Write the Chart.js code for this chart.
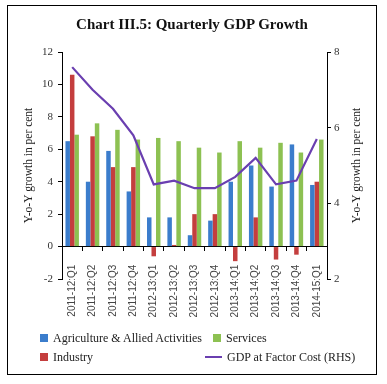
<!DOCTYPE html>
<html lang="en">
<head>
<meta charset="utf-8">
<title>Chart III.5: Quarterly GDP Growth</title>
<script src="https://cdn.jsdelivr.net/npm/chart.js@4.4.1/dist/chart.umd.min.js"></script>
<style>
  html, body { margin: 0; padding: 0; background: #fff; }
  #lienzo { position: relative; width: 387px; height: 384px; overflow: hidden; }
  #marco { position: absolute; left: 7px; top: 5px; width: 370px; height: 370px;
           border: 1px solid #000; box-sizing: border-box; pointer-events: none; }
  #titulo { position: absolute; left: 7px; width: 370px; top: 15px; text-align: center;
            font: bold 15px/18px "Liberation Serif", serif; color: #111; }
  canvas { position: absolute; left: 0; top: 0; }
  .leyenda-item { position: absolute; font: 12px/14px "Liberation Serif", serif; color: #222;
                  white-space: nowrap; display: flex; align-items: center; }
  .muestra { width: 8px; height: 8px; margin-right: 5px; }
  .muestra-linea { width: 17px; height: 2px; margin-right: 5px; }
</style>
</head>
<body>
<div id="lienzo">
  <canvas id="grafico" width="387" height="384"></canvas>
  <div id="titulo">Chart III.5: Quarterly GDP Growth</div>
  <div id="leyenda"></div>
  <div id="marco"></div>
</div>
<script>
// --- Datos ---
const categorias = [
  "2011-12:Q1", "2011-12:Q2", "2011-12:Q3", "2011-12:Q4",
  "2012-13:Q1", "2012-13:Q2", "2012-13:Q3", "2012-13:Q4",
  "2013-14:Q1", "2013-14:Q2", "2013-14:Q3", "2013-14:Q4",
  "2014-15:Q1",
];
const agricultura = [6.5, 4.0, 5.9, 3.4, 1.8, 1.8, 0.7, 1.6, 4.0, 5.0, 3.7, 6.3, 3.8];
const industria   = [10.6, 6.8, 4.9, 4.9, -0.6, 0.1, 2.0, 2.0, -0.9, 1.8, -0.8, -0.5, 4.0];
const servicios   = [6.9, 7.6, 7.2, 6.6, 6.7, 6.5, 6.1, 5.8, 6.5, 6.1, 6.4, 5.8, 6.6];
const pib         = [7.6, 7.0, 6.5, 5.8, 4.5, 4.6, 4.4, 4.4, 4.7, 5.2, 4.5, 4.6, 5.7];

const ticksIzq = [-2, 0, 2, 4, 6, 8, 10, 12];
const ticksDer = [2, 4, 6, 8];

const nombres = {
  agricultura: "Agriculture & Allied Activities",
  industria: "Industry",
  servicios: "Services",
  pib: "GDP at Factor Cost (RHS)",
};
const tituloEje = "Y-o-Y growth in per cent";

const colores = {
  agricultura: "#3b7dcc",
  industria: "#c43e3e",
  servicios: "#8dc152",
  pib: "#6a3fb0",
};

const fuenteSerif = "'Liberation Serif', serif";

// Título del eje derecho: se lee de abajo hacia arriba, igual que el izquierdo.
const tituloDerecho = {
  id: "tituloDerecho",
  afterDraw(chart) {
    const { ctx, chartArea } = chart;
    ctx.save();
    ctx.translate(357, (chartArea.top + chartArea.bottom) / 2);
    ctx.rotate(-Math.PI / 2);
    ctx.font = "11.5px " + fuenteSerif;
    ctx.fillStyle = "#222";
    ctx.textAlign = "center";
    ctx.textBaseline = "middle";
    ctx.fillText(tituloEje, 0, 0);
    ctx.restore();
  },
};

const barra = (clave) => ({
  type: "bar",
  label: nombres[clave],
  data: clave === "agricultura" ? agricultura : clave === "industria" ? industria : servicios,
  backgroundColor: colores[clave],
  borderWidth: 0,
  categoryPercentage: 0.66,
  barPercentage: 1.0,
  yAxisID: "y",
  order: 1,
});

new Chart(document.getElementById("grafico"), {
  data: {
    labels: categorias,
    datasets: [
      barra("agricultura"),
      barra("industria"),
      barra("servicios"),
      {
        type: "line",
        label: nombres.pib,
        data: pib,
        borderColor: colores.pib,
        borderWidth: 2.2,
        pointRadius: 0,
        tension: 0,
        yAxisID: "y1",
        order: 0,
      },
    ],
  },
  options: {
    responsive: false,
    animation: false,
    layout: { padding: { top: 52, bottom: 105, left: 0, right: 0 } },
    plugins: { legend: { display: false }, tooltip: { enabled: false } },
    scales: {
      x: {
        type: "category",
        position: { y: 0 },
        grid: { offset: true, drawOnChartArea: false, tickLength: 4, color: "#000" },
        border: { display: true, color: "#000" },
        ticks: {
          autoSkip: false,
          minRotation: 90,
          maxRotation: 90,
          padding: 14,
          color: "#444",
          font: { family: "'Liberation Sans', sans-serif", size: 10 },
        },
      },
      y: {
        position: "left",
        min: ticksIzq[0],
        max: ticksIzq[ticksIzq.length - 1],
        afterBuildTicks: (s) => { s.ticks = ticksIzq.map((v) => ({ value: v })); },
        afterFit: (s) => { s.width = 62; },
        grid: { drawOnChartArea: false, tickLength: 4, color: "#000" },
        border: { display: true, color: "#000" },
        ticks: { padding: 5, color: "#333", font: { family: fuenteSerif, size: 11 } },
        title: {
          display: true,
          text: tituloEje,
          color: "#222",
          padding: { top: 22, bottom: 0 },
          font: { family: fuenteSerif, size: 11.5 },
        },
      },
      y1: {
        position: "right",
        min: ticksDer[0],
        max: ticksDer[ticksDer.length - 1],
        afterBuildTicks: (s) => { s.ticks = ticksDer.map((v) => ({ value: v })); },
        afterFit: (s) => { s.width = 60; },
        grid: { drawOnChartArea: false, tickLength: 4, color: "#000" },
        border: { display: true, color: "#000" },
        ticks: { padding: 3, color: "#333", font: { family: fuenteSerif, size: 11 } },
      },
    },
  },
  plugins: [tituloDerecho],
});

// --- Leyenda en HTML (dos columnas, como el original) ---
const leyenda = document.getElementById("leyenda");
[
  { clave: "agricultura", x: 40, y: 331, tipo: "caja" },
  { clave: "servicios", x: 213, y: 331, tipo: "caja" },
  { clave: "industria", x: 40, y: 350, tipo: "caja" },
  { clave: "pib", x: 205, y: 350, tipo: "linea" },
].forEach((it) => {
  const el = document.createElement("div");
  el.className = "leyenda-item";
  el.style.left = it.x + "px";
  el.style.top = it.y + "px";
  const m = document.createElement("span");
  m.className = it.tipo === "caja" ? "muestra" : "muestra-linea";
  m.style.background = colores[it.clave];
  el.appendChild(m);
  el.appendChild(document.createTextNode(nombres[it.clave]));
  leyenda.appendChild(el);
});
</script>
</body>
</html>
